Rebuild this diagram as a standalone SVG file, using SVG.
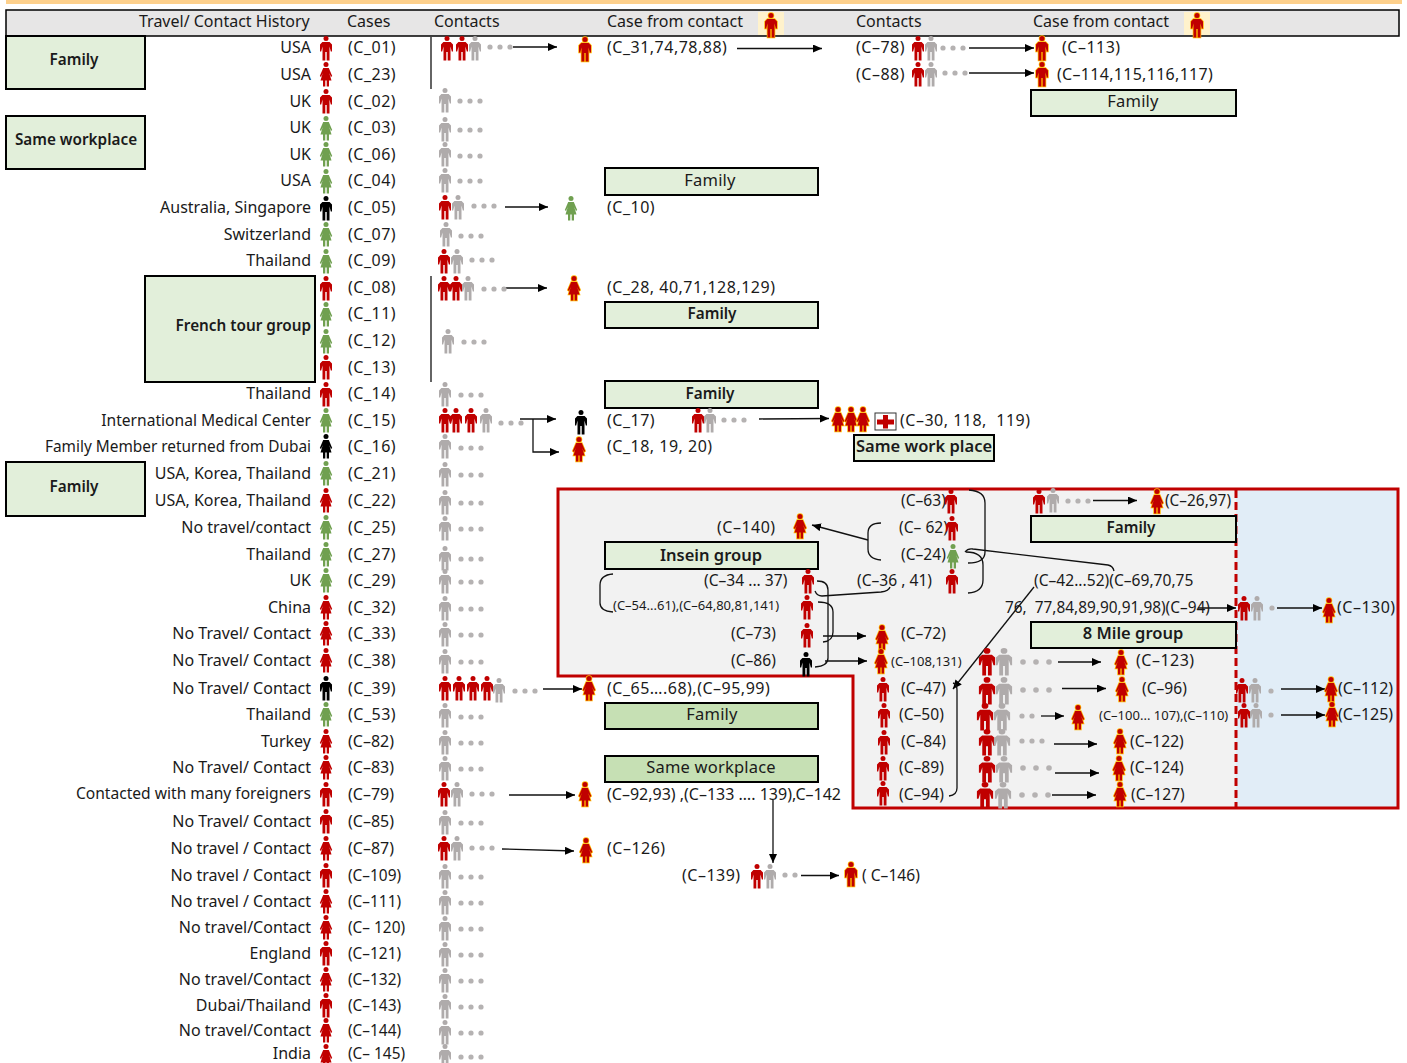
<svg xmlns="http://www.w3.org/2000/svg" width="1407" height="1063" viewBox="0 0 1407 1063">
<style>
text{font-family:"Noto Sans","Open Sans","Liberation Sans",sans-serif;font-size:16px;fill:#1a1a1a;white-space:pre}
.l{text-anchor:end}
.n{letter-spacing:.5px}
.c{font-size:15.4px}
.t{font-size:15.6px}
.s{font-size:13px}
.b{font-weight:600;font-size:15.3px}
.q{font-weight:600;font-size:16.5px}
.w{font-size:16.5px;letter-spacing:.2px}
.mid{text-anchor:middle}
.box{fill:#e2efda;stroke:#000;stroke-width:2}
.dk{fill:#c6e0b4;stroke:#000;stroke-width:2}
.r{fill:#c00000}.g{fill:#afabab}.v{fill:#70a050}.k{fill:#000}
.y{fill:#c00000;stroke:#ffb800;stroke-width:1.5;paint-order:stroke}
#connectors path,#connectors line{fill:none;stroke:#111;stroke-width:1.3}
.a{marker-end:url(#arr)}
</style>
<defs>
<marker id="arr" markerUnits="userSpaceOnUse" markerWidth="10" markerHeight="8" refX="9" refY="4" orient="auto"><path d="M0 0L9 4L0 8Z" fill="#000"/></marker>
<g id="m"><circle cx="0" cy="2.6" r="2.5"/><path d="M-3.600 6H3.600L6 8.500V15.500H4.800L3.500 10.500V24.500H.7V16H-.7V24.500H-3.500V10.500L-4.800 15.500H-6V8.500Z"/></g>
<g id="w"><circle cx="0" cy="2.6" r="2.5"/><path d="M-2.800 6H2.800L6.200 14L5 15L3.200 11L5.500 18.500H3V24.500H.7V18.500H-.7V24.500H-3V18.500H-5.500L-3.200 11L-5 15L-6.200 14Z"/></g>
<g id="d"><circle cx="0" cy="0" r="2.6" fill="#b5b2b2"/><circle cx="10" cy="0" r="2.6" fill="#b5b2b2"/><circle cx="20" cy="0" r="2.6" fill="#b5b2b2"/></g>
<g id="e"><circle cx="0" cy="0" r="2.6" fill="#b5b2b2"/><circle cx="10" cy="0" r="2.6" fill="#b5b2b2"/></g>
<g id="f"><circle cx="0" cy="0" r="2.8" fill="#b5b2b2"/><circle cx="13" cy="0" r="2.8" fill="#b5b2b2"/><circle cx="26" cy="0" r="2.8" fill="#b5b2b2"/></g>
</defs>
<rect width="1407" height="1063" fill="#fff"/>
<rect x="6" y="0" width="1396" height="4" fill="#fdd08c"/>
<g id="header">
<rect x="6" y="10" width="1393" height="26" fill="#e7e6e6" stroke="#000" stroke-width="1.5"/>
<text x="139" y="27">Travel/ Contact History</text><text x="347" y="27">Cases</text><text x="434" y="27">Contacts</text>
<text x="607" y="27">Case from contact</text><text x="856" y="27">Contacts</text><text x="1033" y="27">Case from contact</text>
<rect x="758" y="12" width="26" height="23" fill="#fff2cc"/><use href="#m" x="771" y="13" class="y"/>
<rect x="1184" y="12" width="26" height="23" fill="#fff2cc"/><use href="#m" x="1197" y="13" class="y"/>
</g>
<g id="cluster-frame">
<path d="M558 489H1398V808H853V676H558Z" fill="#f2f2f2"/>
<rect x="1236" y="489" width="162" height="319" fill="#e1edf7"/>
<path d="M558 489H1398V808H853V676H558Z" fill="none" stroke="#c00000" stroke-width="3"/>
<line x1="1236" y1="490" x2="1236" y2="808" stroke="#c00000" stroke-width="3" stroke-dasharray="8 4"/>
</g>
<g id="groups">
<g id="box-family-1"><rect class="box" x="6" y="36" width="139" height="53"/><text class="mid b" x="74" y="65">Family</text></g>
<g id="box-workplace-1"><rect class="box" x="6" y="116" width="139" height="53"/><text class="mid b" x="76" y="145">Same workplace</text></g>
<g id="box-french"><rect class="box" x="145" y="276" width="170" height="106"/><text class="l b" x="311" y="331">French tour group</text></g>
<g id="box-family-2"><rect class="box" x="6" y="462" width="139" height="54"/><text class="mid b" x="74" y="492">Family</text></g>
<g id="box-family-3"><rect class="box" x="1031" y="90" width="205" height="26"/><text class="mid w" x="1133" y="107">Family</text></g>
<g id="box-family-4"><rect class="box" x="605" y="168" width="213" height="27"/><text class="mid w" x="710" y="186">Family</text></g>
<g id="box-family-5"><rect class="box" x="605" y="302" width="213" height="26"/><text class="mid b" x="712" y="319">Family</text></g>
<g id="box-family-6"><rect class="box" x="605" y="381" width="213" height="27"/><text class="mid b" x="710" y="399">Family</text></g>
<g id="box-samework"><rect class="box" x="854" y="435" width="140" height="26"/><text class="mid q" x="924" y="452">Same work place</text></g>
<g id="box-family-7"><rect class="box" x="1031" y="516" width="205" height="26"/><text class="mid b" x="1131" y="533">Family</text></g>
<g id="box-insein"><rect class="box" x="605" y="542" width="213" height="27"/><text class="mid q" x="711" y="561">Insein group</text></g>
<g id="box-8mile"><rect class="box" x="1031" y="622" width="205" height="26"/><text class="mid q" x="1133" y="639">8 Mile group</text></g>
<g id="box-family-8"><rect class="dk" x="605" y="703" width="213" height="26"/><text class="mid w" x="712" y="720">Family</text></g>
<g id="box-workplace-2"><rect class="dk" x="605" y="756" width="213" height="26"/><text class="mid w" x="711" y="773">Same workplace</text></g>
</g>
<g id="connectors">
<line x1="431" y1="37" x2="431" y2="89"/>
<line x1="431" y1="276" x2="431" y2="382"/>
<line class="a" x1="513" y1="47" x2="557" y2="47"/>
<line class="a" x1="737" y1="48.500" x2="822" y2="48.500"/>
<line class="a" x1="969" y1="48" x2="1034" y2="48"/>
<line class="a" x1="969" y1="73" x2="1034" y2="73"/>
<line class="a" x1="505" y1="207" x2="548" y2="207"/>
<line class="a" x1="502" y1="288" x2="547" y2="288"/>
<line class="a" x1="520" y1="419" x2="556" y2="419"/>
<path class="a" d="M533 419V452H559"/>
<line class="a" x1="759" y1="419" x2="829" y2="418.500"/>
<line class="a" x1="1093" y1="500.500" x2="1137" y2="500.500"/>
<line class="a" x1="1198" y1="608" x2="1236" y2="608"/>
<line class="a" x1="1277" y1="608" x2="1322" y2="608"/>
<line class="a" x1="868" y1="540" x2="812" y2="525"/>
<path d="M881 523Q868 523 868 533V549Q868 559 881 560"/>
<path d="M969 490Q985 491 985 503V552Q985 563 968 563"/>
<path d="M966 552Q983 552 983 565V580Q983 592 968 593"/>
<path d="M965 552Q968 548 973 549L1108 565Q1113 566 1114 571"/>
<line class="a" x1="1034" y1="587" x2="953" y2="689"/>
<path d="M953 683Q957 684 957 690V788Q957 795 949 796"/>
<path d="M613 574Q600 575 600 585V603Q600 611 613 612"/>
<path d="M817 581Q828 581 828 590V658Q828 666 815 667"/>
<path d="M818 602Q833 602 833 612V632Q833 641 823 642"/>
<path d="M815 591Q817 596 822 596L881 592Q889 591 890 587"/>
<line class="a" x1="823" y1="636" x2="866" y2="636"/>
<line class="a" x1="825" y1="661" x2="867" y2="661"/>
<line class="a" x1="1058" y1="662" x2="1101" y2="662"/>
<line class="a" x1="1062" y1="688.500" x2="1106" y2="688.500"/>
<line class="a" x1="1041" y1="716" x2="1064" y2="716"/>
<line class="a" x1="1054" y1="744" x2="1097" y2="744"/>
<line class="a" x1="1055" y1="773" x2="1099" y2="773"/>
<line class="a" x1="1052" y1="795" x2="1096" y2="795"/>
<line class="a" x1="1281" y1="689" x2="1325" y2="689"/>
<line class="a" x1="1281" y1="715" x2="1325" y2="715"/>
<line class="a" x1="543" y1="689" x2="582" y2="689"/>
<line class="a" x1="509" y1="795" x2="575" y2="795"/>
<line class="a" x1="502" y1="849" x2="574" y2="851"/>
<line class="a" x1="773" y1="800" x2="773" y2="863"/>
<line class="a" x1="801" y1="875.500" x2="839" y2="875.500"/>
</g>
<g id="c01"><text class="l" x="311" y="53">USA</text><use href="#m" x="326" y="36" class="r"/><text class="n" x="348" y="53">(C_01)</text><use href="#m" x="447" y="36" class="r"/><use href="#m" x="462" y="36" class="r"/><use href="#m" x="475" y="36" class="g"/><use href="#d" x="490" y="47"/></g>
<g id="c23"><text class="l" x="311" y="80">USA</text><use href="#w" x="326" y="62" class="r"/><text class="n" x="348" y="80">(C_23)</text></g>
<g id="c02"><text class="l" x="311" y="107">UK</text><use href="#m" x="326" y="89" class="r"/><text class="n" x="348" y="107">(C_02)</text><use href="#m" x="445" y="88" class="g"/><use href="#d" x="460" y="101"/></g>
<g id="c03"><text class="l" x="311" y="133">UK</text><use href="#w" x="326" y="116" class="v"/><text class="n" x="348" y="133">(C_03)</text><use href="#m" x="445" y="117" class="g"/><use href="#d" x="460" y="130"/></g>
<g id="c06"><text class="l" x="311" y="160">UK</text><use href="#w" x="326" y="142" class="v"/><text class="n" x="348" y="160">(C_06)</text><use href="#m" x="445" y="142" class="g"/><use href="#d" x="460" y="156"/></g>
<g id="c04"><text class="l" x="311" y="186">USA</text><use href="#w" x="326" y="169" class="v"/><text class="n" x="348" y="186">(C_04)</text><use href="#m" x="445" y="168" class="g"/><use href="#d" x="460" y="181"/></g>
<g id="c05"><text class="l" x="311" y="213">Australia, Singapore</text><use href="#m" x="326" y="196" class="k"/><text class="n" x="348" y="213">(C_05)</text><use href="#m" x="445" y="195" class="r"/><use href="#m" x="458" y="195" class="g"/><use href="#d" x="474" y="206"/><use href="#w" x="571" y="196" class="v"/></g>
<g id="c10"><text class="n" x="607" y="213">(C_10)</text></g>
<g id="c07"><text class="l" x="311" y="240">Switzerland</text><use href="#w" x="326" y="222" class="v"/><text class="n" x="348" y="240">(C_07)</text><use href="#m" x="446" y="222" class="g"/><use href="#d" x="461" y="236"/></g>
<g id="c09"><text class="l" x="311" y="266">Thailand</text><use href="#w" x="326" y="249" class="v"/><text class="n" x="348" y="266">(C_09)</text><use href="#m" x="444" y="249" class="r"/><use href="#m" x="457" y="249" class="g"/><use href="#d" x="472" y="260"/></g>
<g id="c08"><use href="#m" x="326" y="276" class="r"/><text class="n" x="348" y="293">(C_08)</text><use href="#m" x="444" y="276" class="r"/><use href="#m" x="456" y="276" class="r"/><use href="#m" x="468" y="276" class="g"/><use href="#d" x="484" y="289"/><use href="#w" x="574" y="276" class="y"/><text class="n" x="607" y="293">(C_28, 40,71,128,129)</text></g>
<g id="c11"><use href="#w" x="326" y="302" class="v"/><text class="n" x="348" y="319">(C_11)</text></g>
<g id="c12"><use href="#w" x="326" y="329" class="v"/><text class="n" x="348" y="346">(C_12)</text><use href="#m" x="448" y="329" class="g"/><use href="#d" x="464" y="342"/></g>
<g id="c13"><use href="#m" x="326" y="355" class="r"/><text class="n" x="348" y="373">(C_13)</text></g>
<g id="c14"><text class="l" x="311" y="399">Thailand</text><use href="#m" x="326" y="382" class="r"/><text class="n" x="348" y="399">(C_14)</text><use href="#m" x="445" y="382" class="g"/><use href="#d" x="461" y="395"/></g>
<g id="c15"><text class="l t" x="311" y="426">International Medical Center</text><use href="#w" x="326" y="408" class="v"/><text class="n" x="348" y="426">(C_15)</text><use href="#m" x="445" y="408" class="r"/><use href="#m" x="456" y="408" class="r"/><use href="#m" x="471" y="408" class="r"/><use href="#m" x="486" y="408" class="g"/><use href="#d" x="501" y="423"/><use href="#m" x="581" y="410" class="k"/></g>
<g id="c17"><text class="n" x="607" y="426">(C_17)</text><use href="#m" x="698" y="408" class="r"/><use href="#m" x="710" y="408" class="g"/><use href="#d" x="724" y="420"/><use href="#w" x="838" y="407" class="y"/><use href="#w" x="851" y="407" class="y"/><use href="#w" x="863" y="407" class="y"/><rect x="875" y="413" width="21" height="17" fill="#fff" stroke="#333"/><path d="M883 415h5v4.500h6v5h-6v4h-5v-4h-6v-5h6z" fill="#c00000"/><text class="n" x="900" y="426">(C–30, 118,  119)</text></g>
<g id="c16"><text class="l c" x="311" y="452">Family Member returned from Dubai</text><use href="#w" x="326" y="434" class="k"/><text class="n" x="348" y="452">(C_16)</text><use href="#m" x="445" y="434" class="g"/><use href="#d" x="461" y="448"/><use href="#w" x="579" y="437" class="y"/><text class="n" x="607" y="452">(C_18, 19, 20)</text></g>
<g id="c21"><text class="l" x="311" y="479">USA, Korea, Thailand</text><use href="#w" x="326" y="461" class="v"/><text class="n" x="348" y="479">(C_21)</text><use href="#m" x="445" y="462" class="g"/><use href="#d" x="461" y="475"/></g>
<g id="c22"><text class="l" x="311" y="506">USA, Korea, Thailand</text><use href="#w" x="326" y="488" class="r"/><text class="n" x="348" y="506">(C_22)</text><use href="#m" x="445" y="490" class="g"/><use href="#d" x="461" y="503"/></g>
<g id="c25"><text class="l" x="311" y="533">No travel/contact</text><use href="#w" x="326" y="515" class="v"/><text class="n" x="348" y="533">(C_25)</text><use href="#m" x="445" y="516" class="g"/><use href="#d" x="461" y="529"/></g>
<g id="c27"><text class="l" x="311" y="560">Thailand</text><use href="#w" x="326" y="542" class="v"/><text class="n" x="348" y="560">(C_27)</text><use href="#m" x="445" y="546" class="g"/><use href="#d" x="461" y="559"/></g>
<g id="c29"><text class="l" x="311" y="586">UK</text><use href="#w" x="326" y="568" class="v"/><text class="n" x="348" y="586">(C_29)</text><use href="#m" x="445" y="569" class="g"/><use href="#d" x="461" y="582"/></g>
<g id="c32"><text class="l" x="311" y="613">China</text><use href="#w" x="326" y="595" class="r"/><text class="n" x="348" y="613">(C_32)</text><use href="#m" x="445" y="596" class="g"/><use href="#d" x="461" y="609"/></g>
<g id="c33"><text class="l" x="311" y="639">No Travel/ Contact</text><use href="#w" x="326" y="621" class="r"/><text class="n" x="348" y="639">(C_33)</text><use href="#m" x="445" y="622" class="g"/><use href="#d" x="461" y="635"/></g>
<g id="c38"><text class="l" x="311" y="666">No Travel/ Contact</text><use href="#w" x="326" y="648" class="r"/><text class="n" x="348" y="666">(C_38)</text><use href="#m" x="445" y="649" class="g"/><use href="#d" x="461" y="662"/></g>
<g id="c39"><text class="l" x="311" y="694">No Travel/ Contact</text><use href="#m" x="326" y="676" class="k"/><text class="n" x="348" y="694">(C_39)</text><use href="#m" x="445" y="676" class="r"/><use href="#m" x="459" y="676" class="r"/><use href="#m" x="473" y="676" class="r"/><use href="#m" x="487" y="676" class="r"/><use href="#m" x="499" y="678" class="g"/><use href="#d" x="515" y="691"/><use href="#w" x="589" y="676" class="y"/><text class="n" x="607" y="694">(C_65….68),(C–95,99)</text></g>
<g id="c53"><text class="l" x="311" y="720">Thailand</text><use href="#w" x="326" y="702" class="v"/><text class="n" x="348" y="720">(C_53)</text><use href="#m" x="445" y="703" class="g"/><use href="#d" x="461" y="717"/></g>
<g id="c82"><text class="l" x="311" y="747">Turkey</text><use href="#w" x="326" y="729" class="r"/><text x="348" y="747">(C–82)</text><use href="#m" x="445" y="730" class="g"/><use href="#d" x="461" y="743"/></g>
<g id="c83"><text class="l" x="311" y="773">No Travel/ Contact</text><use href="#w" x="326" y="755" class="r"/><text x="348" y="773">(C–83)</text><use href="#m" x="445" y="756" class="g"/><use href="#d" x="461" y="769"/></g>
<g id="c79"><text class="l t" x="311" y="799">Contacted with many foreigners</text><use href="#m" x="326" y="782" class="r"/><text x="348" y="800">(C–79)</text><use href="#m" x="444" y="782" class="r"/><use href="#m" x="457" y="782" class="g"/><use href="#d" x="472" y="794"/><use href="#w" x="585" y="782" class="y"/><text x="607" y="800">(C–92,93) ,(C–133 …. 139),C–142</text></g>
<g id="c85"><text class="l" x="311" y="827">No Travel/ Contact</text><use href="#m" x="326" y="809" class="r"/><text x="348" y="827">(C–85)</text><use href="#m" x="445" y="810" class="g"/><use href="#d" x="461" y="823"/></g>
<g id="c87"><text class="l" x="311" y="854">No travel / Contact</text><use href="#w" x="326" y="836" class="r"/><text x="348" y="854">(C–87)</text><use href="#m" x="444" y="836" class="r"/><use href="#m" x="457" y="836" class="g"/><use href="#d" x="472" y="848"/><use href="#w" x="586" y="838" class="y"/><text class="n" x="607" y="854">(C–126)</text></g>
<g id="c109"><text class="l" x="311" y="881">No travel / Contact</text><use href="#m" x="326" y="863" class="r"/><text class="c" x="348" y="881">(C–109)</text><use href="#m" x="445" y="864" class="g"/><use href="#d" x="461" y="877"/></g>
<g id="c111"><text class="l" x="311" y="907">No travel / Contact</text><use href="#w" x="326" y="889" class="r"/><text class="c" x="348" y="907">(C–111)</text><use href="#m" x="445" y="890" class="g"/><use href="#d" x="461" y="903"/></g>
<g id="c120"><text class="l" x="311" y="933">No travel/Contact</text><use href="#w" x="326" y="915" class="r"/><text class="c" x="348" y="933">(C– 120)</text><use href="#m" x="445" y="916" class="g"/><use href="#d" x="461" y="929"/></g>
<g id="c121"><text class="l" x="311" y="959">England</text><use href="#m" x="326" y="941" class="r"/><text class="c" x="348" y="959">(C–121)</text><use href="#m" x="445" y="942" class="g"/><use href="#d" x="461" y="955"/></g>
<g id="c132"><text class="l" x="311" y="985">No travel/Contact</text><use href="#w" x="326" y="967" class="r"/><text class="c" x="348" y="985">(C–132)</text><use href="#m" x="445" y="968" class="g"/><use href="#d" x="461" y="981"/></g>
<g id="c143"><text class="l" x="311" y="1011">Dubai/Thailand</text><use href="#m" x="326" y="993" class="r"/><text class="c" x="348" y="1011">(C–143)</text><use href="#m" x="445" y="994" class="g"/><use href="#d" x="461" y="1007"/></g>
<g id="c144"><text class="l" x="311" y="1036">No travel/Contact</text><use href="#w" x="326" y="1018" class="r"/><text class="c" x="348" y="1036">(C–144)</text><use href="#m" x="445" y="1020" class="g"/><use href="#d" x="461" y="1033"/></g>
<g id="c145"><text class="l" x="311" y="1059">India</text><use href="#w" x="326" y="1044" class="r"/><text class="c" x="348" y="1059">(C– 145)</text><use href="#m" x="445" y="1044" class="g"/><use href="#d" x="461" y="1057"/></g>
<g id="c31"><use href="#m" x="585" y="37" class="y"/><text class="n" x="607" y="53">(C_31,74,78,88)</text></g>
<g id="c78"><text class="n" x="856" y="53">(C–78)</text><use href="#m" x="918" y="36" class="r"/><use href="#m" x="931" y="36" class="g"/><use href="#d" x="943" y="48"/><use href="#m" x="1042" y="36" class="y"/><text class="n" x="1062" y="53">(C–113)</text></g>
<g id="c88"><text class="n" x="856" y="80">(C–88)</text><use href="#m" x="918" y="62" class="r"/><use href="#m" x="931" y="62" class="g"/><use href="#d" x="945" y="73"/><use href="#m" x="1042" y="62" class="y"/><text x="1057" y="80" style="letter-spacing:.3px">(C–114,115,116,117)</text></g>
<g id="c139"><text class="n" x="682" y="881">(C–139)</text><use href="#m" x="757" y="864" class="r"/><use href="#m" x="770" y="864" class="g"/><use href="#e" x="785" y="875"/><use href="#m" x="851" y="862" class="y"/><text class="t" x="862" y="881">( C–146)</text></g>
<g id="insein">
<text class="t" x="901" y="506">(C–63)</text><use href="#m" x="951" y="489" class="r"/>
<text class="t" x="899" y="533">(C– 62)</text><use href="#m" x="952" y="516" class="r"/>
<text class="t" x="901" y="560">(C–24)</text><use href="#w" x="953" y="544" class="v"/>
<text class="t" x="857" y="586">(C–36 , 41)</text><use href="#m" x="952" y="569" class="r"/>
<text class="n" x="717" y="533">(C–140)</text><use href="#w" x="800" y="514" class="y"/>
<text class="t" x="704" y="586">(C–34 ... 37)</text><use href="#m" x="808" y="569" class="r"/>
<text class="s" x="613" y="610">(C–54...61),(C–64,80,81,141)</text><use href="#m" x="807" y="595" class="r"/>
<text class="t" x="731" y="639">(C–73)</text><use href="#m" x="807" y="623" class="r"/>
<text class="t" x="731" y="666">(C–86)</text><use href="#m" x="806" y="652" class="k"/>
<use href="#w" x="882" y="625" class="y"/><text class="t" x="901" y="639">(C–72)</text>
<use href="#w" x="881" y="649" class="y"/><text class="s" x="891" y="666">(C–108,131)</text>
</g>
<g id="c26"><use href="#m" x="1039" y="489" class="r"/><use href="#m" x="1053" y="488" class="g"/><use href="#d" x="1068" y="501"/><use href="#w" x="1157" y="489" class="y"/><text class="c" x="1165" y="506">(C–26,97)</text></g>
<g id="c42"><text class="t" x="1034" y="586">(C–42...52)(C–69,70,75</text><text class="c" x="1005" y="613">76,  77,84,89,90,91,98)(C–94)</text></g>
<g id="c130"><use href="#m" x="1244" y="596" class="r"/><use href="#m" x="1257" y="596" class="g"/><circle cx="1272" cy="608" r="2.600" fill="#b5b2b2"/><use href="#w" x="1329" y="598" class="y"/><text class="n" x="1337" y="613">(C–130)</text></g>
<g id="mile">
<text class="t" x="901" y="694">(C–47)</text><use href="#m" x="883" y="677" class="r"/>
<text class="t" x="899" y="720">(C–50)</text><use href="#m" x="884" y="703" class="r"/>
<text class="t" x="901" y="747">(C–84)</text><use href="#m" x="884" y="730" class="r"/>
<text class="t" x="899" y="773">(C–89)</text><use href="#m" x="883" y="756" class="r"/>
<text class="t" x="899" y="800">(C–94)</text><use href="#m" x="883" y="781" class="r"/>
<use href="#m" transform="translate(987 648) scale(1.35 1.12)" class="r"/><use href="#m" transform="translate(1004 648) scale(1.35 1.12)" class="g"/><use href="#f" x="1023" y="662"/><use href="#w" x="1121" y="650" class="y"/><text class="n" x="1136" y="666">(C–123)</text>
<use href="#m" transform="translate(987 677) scale(1.35 1.12)" class="r"/><use href="#m" transform="translate(1004 677) scale(1.35 1.12)" class="g"/><use href="#f" x="1023" y="690"/><use href="#w" x="1122" y="677" class="y"/><text class="t" x="1142" y="694">(C–96)</text>
<use href="#m" transform="translate(985 703) scale(1.35 1.12)" class="r"/><use href="#m" transform="translate(1002 703) scale(1.35 1.12)" class="g"/><use href="#e" x="1022" y="716"/><use href="#w" x="1078" y="705" class="y"/><text class="s" x="1099" y="720">(C–100... 107),(C–110)</text>
<use href="#m" transform="translate(987 729) scale(1.35 1.08)" class="r"/><use href="#m" transform="translate(1002 729) scale(1.35 1.08)" class="g"/><use href="#d" x="1022" y="741"/><use href="#w" x="1120" y="729" class="y"/><text class="t" x="1130" y="747">(C–122)</text>
<use href="#m" transform="translate(987 756) scale(1.35 1.08)" class="r"/><use href="#m" transform="translate(1004 756) scale(1.35 1.08)" class="g"/><use href="#f" x="1023" y="768"/><use href="#w" x="1119" y="756" class="y"/><text class="t" x="1130" y="773">(C–124)</text>
<use href="#m" transform="translate(985 782) scale(1.35 1.08)" class="r"/><use href="#m" transform="translate(1003 782) scale(1.35 1.08)" class="g"/><use href="#f" x="1022" y="795"/><use href="#w" x="1120" y="782" class="y"/><text class="t" x="1131" y="800">(C–127)</text>
</g>
<g id="c112"><use href="#m" x="1242" y="678" class="r"/><use href="#m" x="1255" y="678" class="g"/><circle cx="1271" cy="691" r="2.600" fill="#b5b2b2"/><use href="#w" x="1331" y="677" class="y"/><text x="1338" y="694">(C–112)</text></g>
<g id="c125"><use href="#m" x="1244" y="703" class="r"/><use href="#m" x="1256" y="703" class="g"/><circle cx="1271" cy="715" r="2.600" fill="#b5b2b2"/><use href="#w" x="1332" y="702" class="y"/><text x="1338" y="720">(C–125)</text></g>
</svg>
